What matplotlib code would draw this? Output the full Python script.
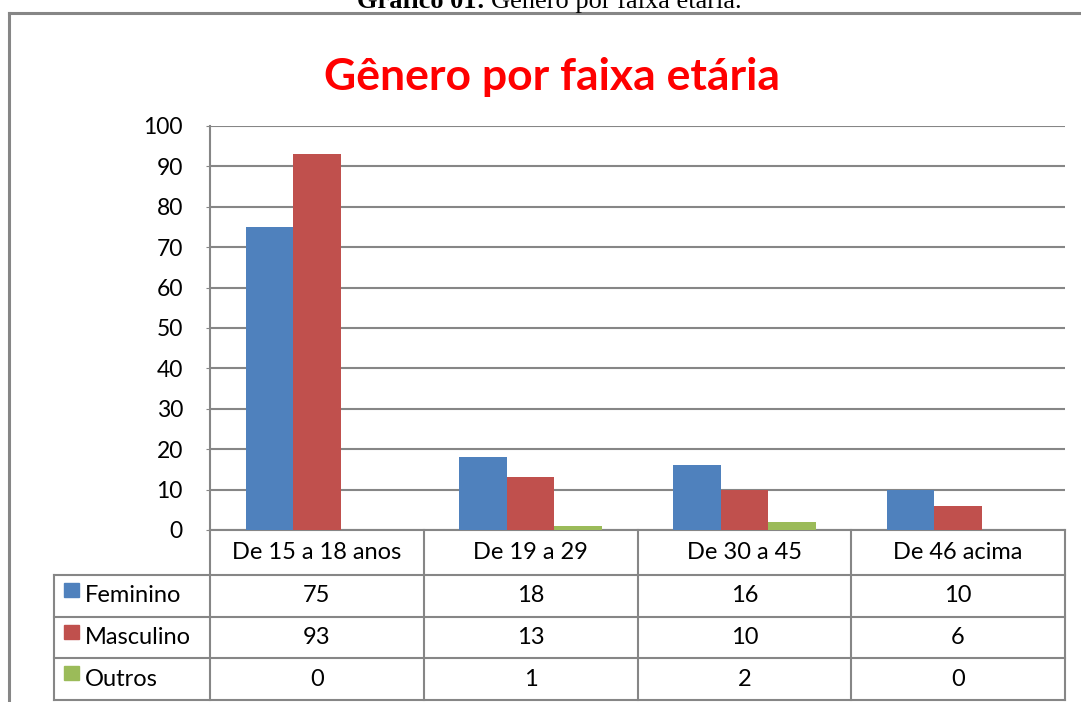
import numpy as np
import matplotlib.pyplot as plt
from matplotlib.lines import Line2D
from matplotlib.patches import Rectangle

# data
categories = ['De 15 a 18 anos', 'De 19 a 29', 'De 30 a 45', 'De 46 acima']
series_names = ['Feminino', 'Masculino', 'Outros']
feminino = [75, 18, 16, 10]
masculino = [93, 13, 10, 6]
outros = [0, 1, 2, 0]
series_values = [feminino, masculino, outros]
colors = ['#4F81BD', '#C0504D', '#9BBB59']
yticks = [0, 10, 20, 30, 40, 50, 60, 70, 80, 90, 100]

plt.rcParams['font.family'] = ['Lato', 'DejaVu Sans']
grid_color = '#868686'

fig = plt.figure(figsize=(10.81, 7.02), dpi=100)
ax = fig.add_axes([210 / 1081, 1 - 530 / 702, 855 / 1081, 404 / 702])

x = np.arange(len(categories))
w = 1 / 4.5
for i, vals in enumerate(series_values):
    ax.bar(x + (i - 1) * w, vals, width=w, color=colors[i], zorder=3)

ax.set_xlim(-0.5, len(categories) - 0.5)
ax.set_ylim(0, 100)
ax.set_yticks(yticks)
ax.set_yticklabels([str(t) for t in yticks], fontsize=16.5)
ax.set_xticks([])
ax.tick_params(axis='y', length=3, color=grid_color, pad=16.5, labelcolor='black')
ax.yaxis.grid(True, color=grid_color, linewidth=1.5, zorder=0)
for s in ['top', 'right']:
    ax.spines[s].set_visible(False)
for s in ['left', 'bottom']:
    ax.spines[s].set_color(grid_color)
    ax.spines[s].set_linewidth(1.5)

# data table below the plot
row_y = [-45 / 404, -87 / 404, -128 / 404, -170 / 404]
label_left = (54 - 210) / 213.75 - 0.5
trans = ax.get_xaxis_transform()
kw = dict(color=grid_color, linewidth=1.5, transform=trans, clip_on=False)
for y in row_y:
    ax.add_line(Line2D([label_left, 3.5], [y, y], **kw))
for b in np.arange(len(categories) + 1) - 0.5:
    ax.add_line(Line2D([b, b], [0, row_y[-1]], **kw))
ax.add_line(Line2D([label_left, label_left], [row_y[0], row_y[-1]], **kw))

for j, cat in enumerate(categories):
    ax.text(x[j], row_y[0] / 2, cat, ha='center', va='center', fontsize=17, transform=trans)
for i, name in enumerate(series_names):
    yc = (row_y[i] + row_y[i + 1]) / 2
    ax.add_patch(Rectangle((label_left + 0.047, yc - 1 / 404), 0.07, 14 / 404,
                           color=colors[i], transform=trans, clip_on=False))
    ax.text(label_left + 0.145, yc, name, ha='left', va='center', fontsize=17, transform=trans)
    for j in range(len(categories)):
        ax.text(x[j], yc, str(series_values[i][j]), ha='center', va='center', fontsize=17,
                transform=trans)

# title and caption
fig.text(552 / 1081, 1 - 77 / 702, 'Gênero por faixa etária', color='#FF0000',
         fontsize=32, fontweight='bold', ha='center', va='center')
cap = fig.text(357 / 1081, 1 - 13 / 702, 'Gráfico 01:', family='Liberation Serif',
               fontweight='bold', fontsize=19, ha='left', va='bottom')
fig.add_artist(plt.Annotation('Gênero por faixa etária.', xy=(1, 0), xycoords=cap,
                              xytext=(4, 0), textcoords='offset points',
                              family='Liberation Serif', fontsize=19, va='bottom',
                              annotation_clip=False))

# frame lines
fig.add_artist(Line2D([9 / 1081, 1], [1 - 13 / 702, 1 - 13 / 702], color=grid_color, linewidth=2.2))
fig.add_artist(Line2D([9 / 1081, 9 / 1081], [0, 1 - 13 / 702], color=grid_color, linewidth=2.2))

fig.savefig('out.png', dpi=100)
